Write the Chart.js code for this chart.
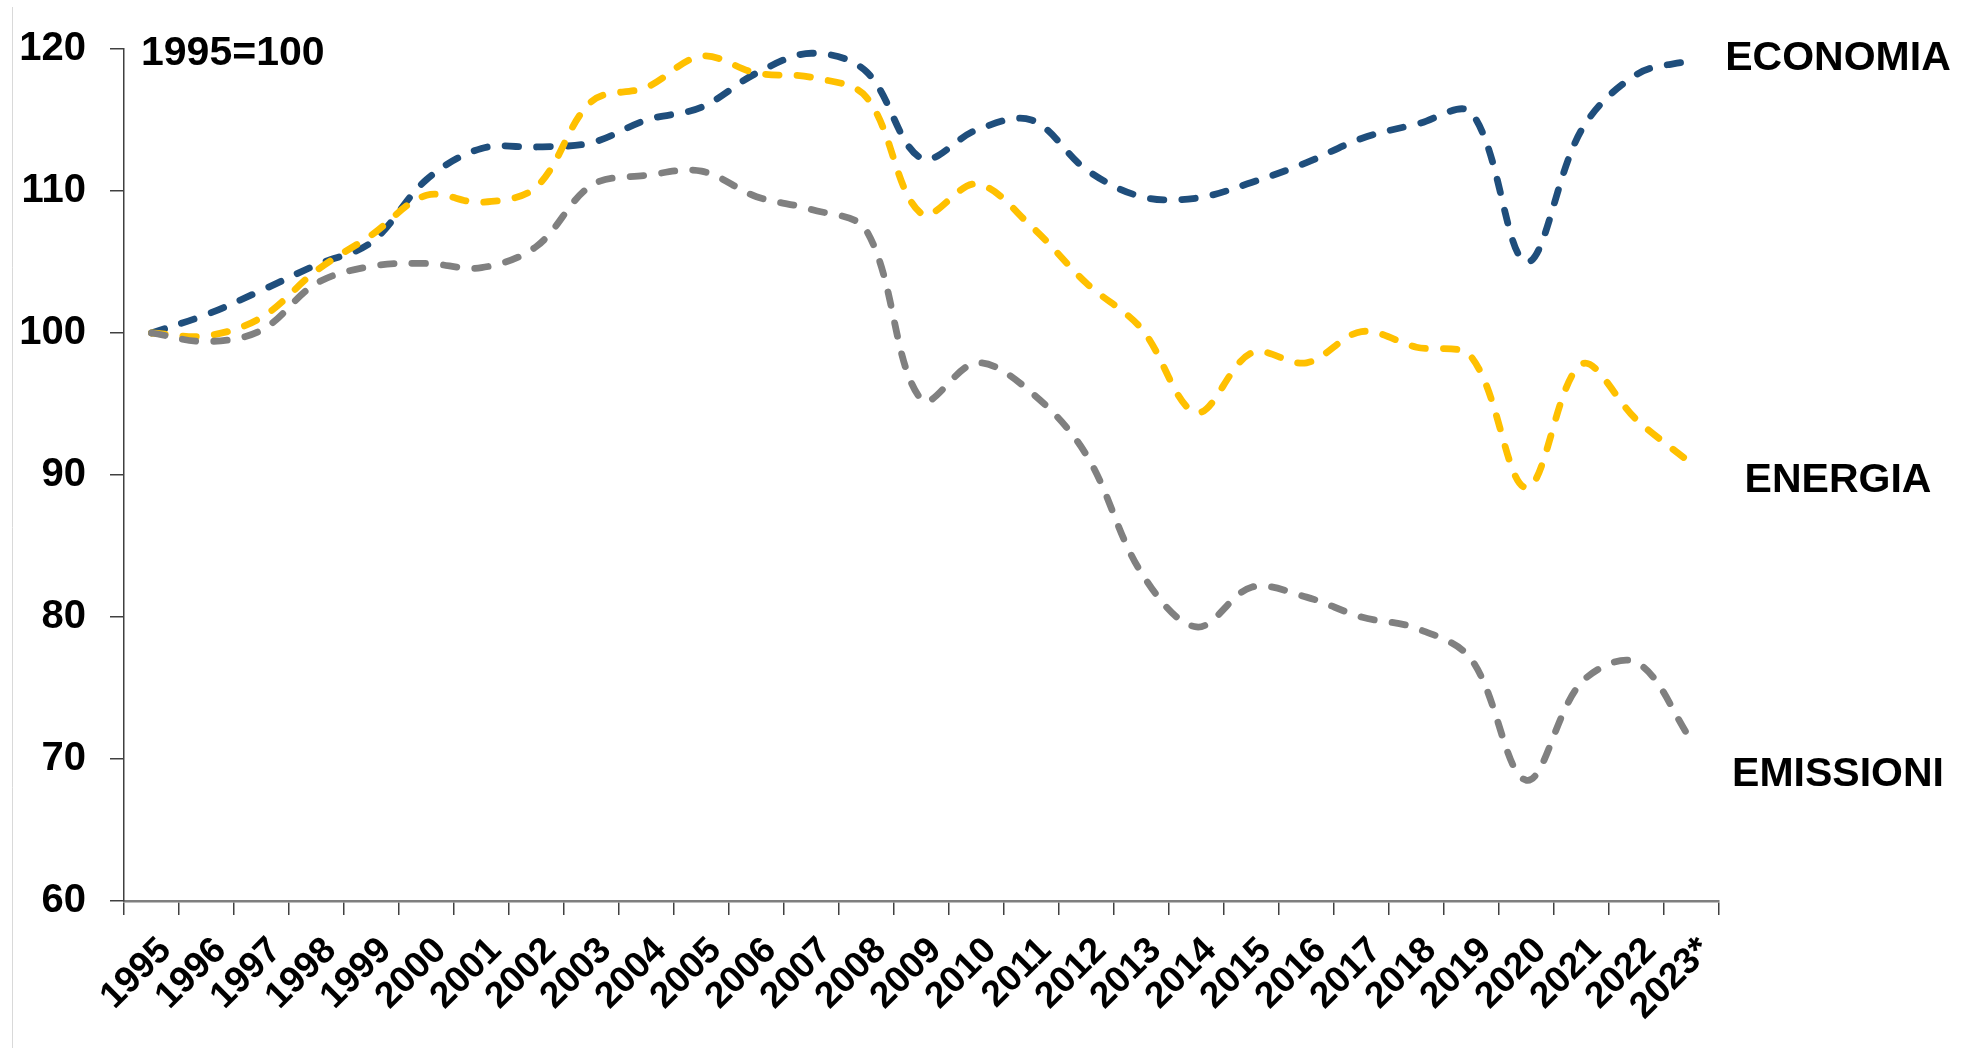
<!DOCTYPE html>
<html>
<head>
<meta charset="utf-8">
<title>Economia, energia, emissioni</title>
<script src="https://cdn.jsdelivr.net/npm/chart.js@4.4.1/dist/chart.umd.min.js"></script>
<style>
  html, body { margin: 0; padding: 0; background: #ffffff; }
  #wrap { width: 1969px; height: 1048px; }
</style>
</head>
<body>
<div id="wrap"><canvas id="chart" width="1969" height="1048"></canvas></div>
<script>
// Anni (asse x)
const anni = ['1995', '1996', '1997', '1998', '1999', '2000', '2001', '2002', '2003', '2004',
  '2005', '2006', '2007', '2008', '2009', '2010', '2011', '2012', '2013', '2014',
  '2015', '2016', '2017', '2018', '2019', '2020', '2021', '2022', '2023*'];

// Serie, indice 1995=100
const economia = [100, 101.3, 103.0, 104.8, 106.4, 110.8, 113.0, 113.1, 113.4, 115.0,
  115.9, 118.3, 119.7, 118.4, 112.3, 114.3, 115.0, 111.5, 109.6, 109.5,
  110.6, 112.0, 113.7, 114.7, 115.5, 105.0, 114.3, 118.2, 119.2];
const energia = [100, 99.8, 101.1, 104.4, 106.9, 109.7, 109.2, 110.3, 116.3, 117.3,
  119.5, 118.3, 118.0, 116.6, 108.4, 110.5, 107.5, 103.5, 100.3, 94.4,
  98.6, 97.9, 100.1, 99.0, 98.3, 89.1, 97.8, 93.9, 90.8];
const emissioni = [100, 99.4, 100.2, 103.5, 104.7, 104.9, 104.6, 106.1, 110.4, 111.1,
  111.4, 109.6, 108.7, 107.2, 95.3, 97.9, 95.8, 91.4, 83.1, 79.3,
  82.1, 81.4, 80.0, 79.2, 77.0, 68.5, 75.4, 76.8, 71.3];

// Etichette delle serie a destra, con il valore a cui stanno
const nomiSerie = ['ECONOMIA', 'ENERGIA', 'EMISSIONI'];
const quotaEtichette = [119.3, 89.6, 68.9];

const blu = '#1f4e7c';
const giallo = '#ffc000';
const grigio = '#808080';
const font = "'Liberation Sans', Arial, sans-serif";

function serie(label, data, colore) {
  return {
    label: label,
    data: data,
    borderColor: colore,
    backgroundColor: colore,
    borderWidth: 6.8,
    borderDash: [13.5, 18],
    borderCapStyle: 'round',
    borderJoinStyle: 'round',
    tension: 0.35,
    pointRadius: 0,
    fill: false
  };
}

// Testi: base dell'indice, nomi delle serie, bordo a sinistra
const testiPlugin = {
  id: 'testi',
  afterDraw(chart) {
    const ctx = chart.ctx;
    const area = chart.chartArea;
    const y = chart.scales.y;
    ctx.save();

    ctx.strokeStyle = '#d9d9d9';
    ctx.lineWidth = 1;
    ctx.beginPath();
    ctx.moveTo(12.5, 7);
    ctx.lineTo(12.5, 1048);
    ctx.stroke();

    ctx.fillStyle = '#000000';
    ctx.font = 'bold 41px ' + font;
    ctx.textAlign = 'left';
    ctx.textBaseline = 'middle';
    ctx.fillText('1995=100', area.left + 17, area.top + 5);

    ctx.textAlign = 'center';
    for (let i = 0; i < nomiSerie.length; i++) {
      ctx.fillText(nomiSerie[i], area.right + 119, y.getPixelForValue(quotaEtichette[i]));
    }
    ctx.restore();
  }
};

const ctx = document.getElementById('chart').getContext('2d');
new Chart(ctx, {
  type: 'line',
  data: {
    labels: anni,
    datasets: [
      serie('Emissioni', emissioni, grigio),
      serie('Energia', energia, giallo),
      serie('Economia', economia, blu)
    ]
  },
  options: {
    responsive: false,
    animation: false,
    layout: { padding: { top: 49, right: 250, left: 0, bottom: 0 } },
    plugins: {
      legend: { display: false },
      tooltip: { enabled: false }
    },
    scales: {
      x: {
        type: 'category',
        offset: true,
        grid: {
          offset: true,
          drawOnChartArea: false,
          tickLength: 14,
          color: '#404040',
          lineWidth: 1.5
        },
        border: { color: '#7f7f7f', width: 2.5 },
        ticks: {
          color: '#000000',
          font: { family: font, size: 37, weight: 'bold' },
          maxRotation: 45,
          minRotation: 45,
          autoSkip: false,
          padding: 14,
          labelOffset: 14
        },
        afterFit(scale) { scale.height = 147; }
      },
      y: {
        min: 60,
        max: 120,
        grid: {
          drawOnChartArea: false,
          tickLength: 14,
          color: '#404040',
          lineWidth: 1.5
        },
        border: { color: '#404040', width: 1.5 },
        ticks: {
          stepSize: 10,
          color: '#000000',
          font: { family: font, size: 40, weight: 'bold' },
          padding: 24
        },
        afterFit(scale) { scale.width = 124; }
      }
    }
  },
  plugins: [testiPlugin]
});
</script>
</body>
</html>
